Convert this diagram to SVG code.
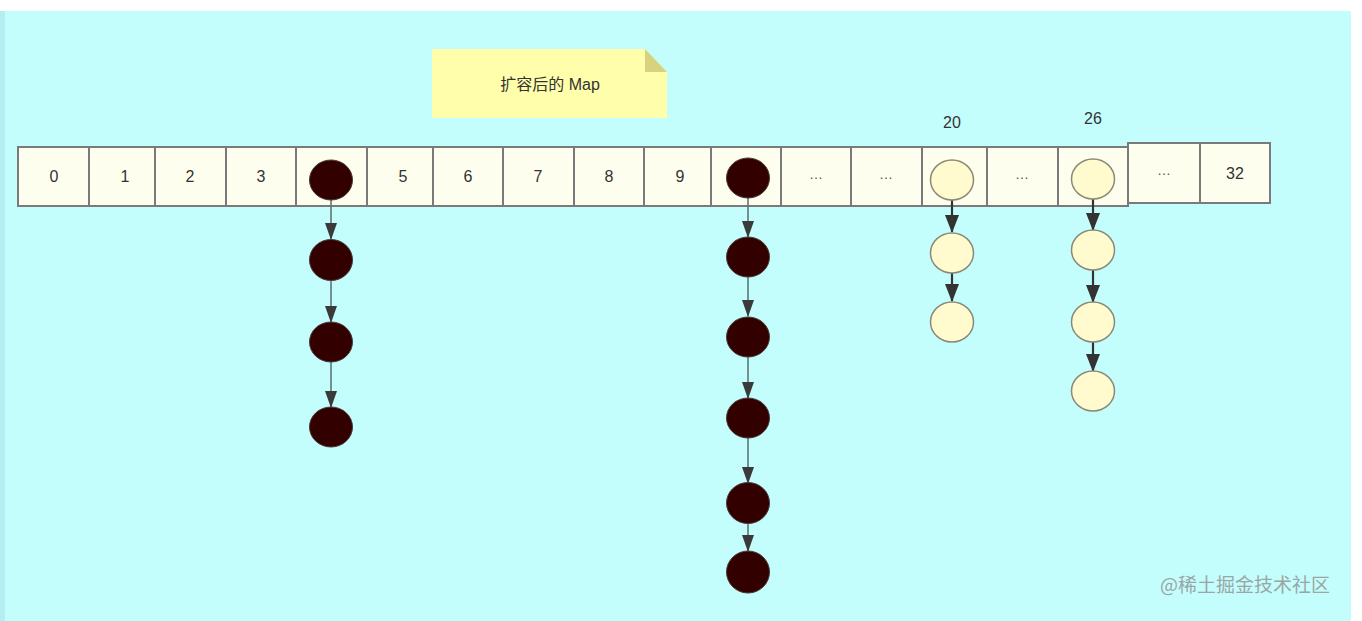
<svg xmlns="http://www.w3.org/2000/svg" width="1362" height="621" viewBox="0 0 1362 621">
<style>
.cell{fill:#fefeee;stroke:#7a7a7a;stroke-width:2}
.lbl{font-family:"Liberation Sans",Arial,sans-serif;font-size:16px;fill:#333;text-anchor:middle}
.dots{font-family:"Liberation Sans",Arial,sans-serif;font-size:14px;fill:#555;text-anchor:middle}
.dk{fill:#330000;stroke:#4a3a3a;stroke-width:1}
.yl{fill:#fffbce;stroke:#8a8a7a;stroke-width:1.5}
.c1{stroke:#5e7777;stroke-width:1.6;fill:none}
.c2{stroke:#333;stroke-width:2.2;fill:none}
</style>
<defs>
<marker id="a1" markerUnits="userSpaceOnUse" markerWidth="12" markerHeight="17" refX="6" refY="16" viewBox="0 0 12 17">
<path d="M0,0 L12,0 L6,17 Z" fill="#3a3a3a"/>
</marker>
<marker id="a2" markerUnits="userSpaceOnUse" markerWidth="14" markerHeight="18" refX="7" refY="17" viewBox="0 0 14 18">
<path d="M0,0 L14,0 L7,18 Z" fill="#333"/>
</marker>
</defs>
<rect x="0" y="0" width="1362" height="621" fill="#ffffff"/>
<rect x="0" y="11" width="1351" height="610" fill="#c3fefd"/>
<rect x="0" y="11" width="5" height="610" fill="#b5eef0"/>

<g id="note">
<path d="M432,49 L645,49 L667,72 L667,118 L432,118 Z" fill="#fffeaa"/>
<path d="M645,49 L645,72 L667,72 Z" fill="#d6d27e"/>
<text class="lbl" x="550" y="90" style="font-family:'Liberation Sans','Noto Sans CJK SC',sans-serif;font-size:16px">扩容后的 Map</text>
</g>

<g id="array">
<g id="cell0"><rect class="cell" x="18" y="147" width="71" height="59"/><text class="lbl" x="54" y="182">0</text></g>
<g id="cell1"><rect class="cell" x="89" y="147" width="66" height="59"/><text class="lbl" x="125" y="182">1</text></g>
<g id="cell2"><rect class="cell" x="155" y="147" width="71" height="59"/><text class="lbl" x="190" y="182">2</text></g>
<g id="cell3"><rect class="cell" x="226" y="147" width="70" height="59"/><text class="lbl" x="261" y="182">3</text></g>
<g id="cell4"><rect class="cell" x="296" y="147" width="71" height="59"/></g>
<g id="cell5"><rect class="cell" x="367" y="147" width="66" height="59"/><text class="lbl" x="403" y="182">5</text></g>
<g id="cell6"><rect class="cell" x="433" y="147" width="70" height="59"/><text class="lbl" x="468" y="182">6</text></g>
<g id="cell7"><rect class="cell" x="503" y="147" width="71" height="59"/><text class="lbl" x="538" y="182">7</text></g>
<g id="cell8"><rect class="cell" x="574" y="147" width="70" height="59"/><text class="lbl" x="609" y="182">8</text></g>
<g id="cell9"><rect class="cell" x="644" y="147" width="67" height="59"/><text class="lbl" x="680" y="182">9</text></g>
<g id="cell10"><rect class="cell" x="711" y="147" width="70" height="59"/></g>
<g id="cell11"><rect class="cell" x="781" y="147" width="70" height="59"/><text class="dots" x="816" y="179">…</text></g>
<g id="cell12"><rect class="cell" x="851" y="147" width="71" height="59"/><text class="dots" x="886" y="179">…</text></g>
<g id="cell20"><rect class="cell" x="922" y="147" width="65" height="59"/></g>
<g id="cell13"><rect class="cell" x="987" y="147" width="71" height="59"/><text class="dots" x="1022" y="179">…</text></g>
<g id="cell26"><rect class="cell" x="1058" y="147" width="70" height="59"/></g>
<g id="cell14"><rect class="cell" x="1128" y="143" width="72" height="60"/><text class="dots" x="1164" y="175">…</text></g>
<g id="cell32"><rect class="cell" x="1200" y="143" width="70" height="60"/><text class="lbl" x="1235" y="179">32</text></g>
</g>

<text class="lbl" x="952" y="128">20</text>
<text class="lbl" x="1093" y="124">26</text>

<g id="connectors">
<line class="c1" x1="331" y1="200" x2="331" y2="239" marker-end="url(#a1)"/>
<line class="c1" x1="331" y1="281" x2="331" y2="322" marker-end="url(#a1)"/>
<line class="c1" x1="331" y1="362" x2="331" y2="407" marker-end="url(#a1)"/>
<line class="c1" x1="748" y1="198" x2="748" y2="237" marker-end="url(#a1)"/>
<line class="c1" x1="748" y1="277" x2="748" y2="316" marker-end="url(#a1)"/>
<line class="c1" x1="748" y1="357" x2="748" y2="398" marker-end="url(#a1)"/>
<line class="c1" x1="748" y1="438" x2="748" y2="483" marker-end="url(#a1)"/>
<line class="c1" x1="748" y1="524" x2="748" y2="551" marker-end="url(#a1)"/>
<line class="c2" x1="952" y1="200" x2="952" y2="232" marker-end="url(#a2)"/>
<line class="c2" x1="952" y1="273" x2="952" y2="301" marker-end="url(#a2)"/>
<line class="c2" x1="1093" y1="199" x2="1093" y2="230" marker-end="url(#a2)"/>
<line class="c2" x1="1093" y1="270" x2="1093" y2="302" marker-end="url(#a2)"/>
<line class="c2" x1="1093" y1="342" x2="1093" y2="371" marker-end="url(#a2)"/>
</g>

<g id="chain4">
<ellipse class="dk" cx="331" cy="180" rx="21.5" ry="20"/>
<ellipse class="dk" cx="331" cy="260" rx="21.5" ry="20.5"/>
<ellipse class="dk" cx="331" cy="342" rx="21.5" ry="20"/>
<ellipse class="dk" cx="331" cy="427" rx="21.5" ry="20"/>
</g>
<g id="chain10">
<ellipse class="dk" cx="748" cy="178" rx="21.5" ry="20"/>
<ellipse class="dk" cx="748" cy="257" rx="21.5" ry="20"/>
<ellipse class="dk" cx="748" cy="337" rx="21.5" ry="20"/>
<ellipse class="dk" cx="748" cy="418" rx="21.5" ry="20"/>
<ellipse class="dk" cx="748" cy="503" rx="21.5" ry="20.5"/>
<ellipse class="dk" cx="748" cy="572" rx="21.5" ry="21"/>
</g>
<g id="chain20">
<ellipse class="yl" cx="952" cy="180" rx="21.5" ry="20"/>
<ellipse class="yl" cx="952" cy="253" rx="21.5" ry="20"/>
<ellipse class="yl" cx="952" cy="322" rx="21.5" ry="20"/>
</g>
<g id="chain26">
<ellipse class="yl" cx="1093" cy="179" rx="21.5" ry="20"/>
<ellipse class="yl" cx="1093" cy="250" rx="21.5" ry="20"/>
<ellipse class="yl" cx="1093" cy="322" rx="21.5" ry="20"/>
<ellipse class="yl" cx="1093" cy="391" rx="21.5" ry="20"/>
</g>

<text x="1245" y="592" font-family="'Noto Sans CJK SC',sans-serif" font-size="19" fill="#9aa6a6" text-anchor="middle">@稀土掘金技术社区</text>
</svg>
